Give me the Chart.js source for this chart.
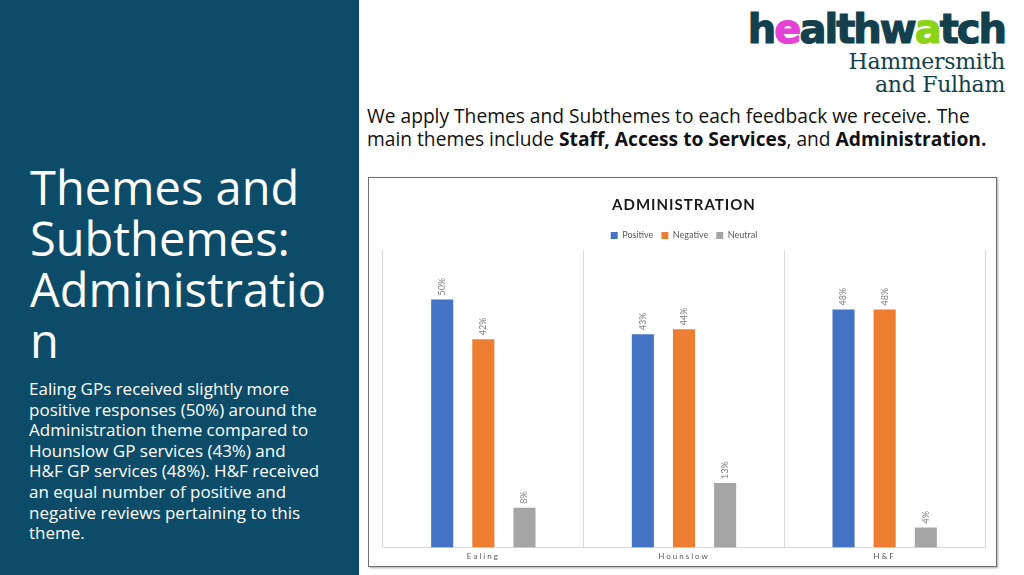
<!DOCTYPE html>
<html>
<head>
<meta charset="utf-8">
<script src="https://cdn.jsdelivr.net/npm/chart.js@4.4.1/dist/chart.umd.min.js"></script>
<style>
  html, body { margin: 0; padding: 0; }
  body { width: 1024px; height: 575px; position: relative; overflow: hidden; background: #fff; font-family: "Open Sans", sans-serif; }
  .side { position: absolute; left: 0; top: 0; width: 359px; height: 575px; background: #0c4c69; color: #fff; }
  .side h1 { position: absolute; left: 30px; top: 162px; margin: 0; font-weight: 400; font-size: 47px; line-height: 51px; white-space: nowrap; }
  .side p { position: absolute; left: 29px; top: 379px; margin: 0; font-size: 17px; line-height: 20.6px; white-space: nowrap; }
  .intro { position: absolute; left: 367px; top: 104px; margin: 0; font-size: 19.2px; line-height: 23px; color: #111; white-space: nowrap; }
  .logo { position: absolute; right: 19px; top: 8px; text-align: right; color: #143f4c; }
  .logo .hw { font-family: "DejaVu Sans", sans-serif; font-weight: 700; font-size: 40px; letter-spacing: -2px; line-height: 42px; -webkit-text-stroke: 1.2px currentColor; }
  .logo .hw .m { color: #e642d8; }
  .logo .hw .g { color: #8bd318; }
  .logo .sub { font-family: "DejaVu Serif", serif; font-size: 22px; line-height: 23px; letter-spacing: -0.3px; }
  .box { position: absolute; left: 368px; top: 177px; width: 627px; height: 388px; border: 1px solid #6f6f6f; box-shadow: 1px 1px 2px rgba(0,0,0,0.35); background: #fff; }
  #chart { display: block; }
</style>
</head>
<body>
<div class="side">
  <h1>Themes and<br>Subthemes:<br>Administratio<br>n</h1>
  <p>Ealing GPs received slightly more<br>positive responses (50%) around the<br>Administration theme compared to<br>Hounslow GP services (43%) and<br>H&amp;F GP services (48%). H&amp;F received<br>an equal number of positive and<br>negative reviews pertaining to this<br>theme.</p>
</div>
<div class="logo">
  <div class="hw">h<span class="m">e</span>althw<span class="g">a</span>tch</div>
  <div class="sub">Hammersmith<br>and Fulham</div>
</div>
<p class="intro">We apply Themes and Subthemes to each feedback we receive. The<br>main themes include <b>Staff, Access to Services</b>, and <b>Administration.</b></p>
<div class="box"><canvas id="chart" width="627" height="388"></canvas></div>
<script>
const categories = ['Ealing', 'Hounslow', 'H&F'];
const positive = [50, 43, 48];
const negative = [42, 44, 48];
const neutral = [8, 13, 4];

// rotated percentage labels above each bar
const barLabels = {
    id: 'barLabels',
    afterDatasetsDraw(chart) {
        const ctx = chart.ctx;
        ctx.save();
        ctx.letterSpacing = '0px';
        ctx.font = '9px Lato';
        ctx.fillStyle = '#7f7f7f';
        ctx.textAlign = 'left';
        ctx.textBaseline = 'middle';
        chart.data.datasets.forEach((ds, i) => {
            chart.getDatasetMeta(i).data.forEach((bar, j) => {
                ctx.save();
                ctx.translate(bar.x, bar.y - 4);
                ctx.rotate(-Math.PI / 2);
                ctx.fillText(ds.data[j] + '%', 0, 0);
                ctx.restore();
            });
        });
        ctx.restore();
    }
};

// spaced-out text for the title and the category labels, plain for the legend
const spacing = {
    id: 'spacing',
    beforeDraw(chart) {
        const ctx = chart.ctx;
        ctx.letterSpacing = '1px';
        if (chart.legend && !chart.legend._wrapped) {
            const legendDraw = chart.legend.draw.bind(chart.legend);
            chart.legend.draw = function () {
                ctx.letterSpacing = '0px';
                legendDraw();
                ctx.letterSpacing = '1px';
            };
            chart.legend._wrapped = true;
        }
        const x = chart.scales.x;
        if (x && !x._wrapped) {
            const drawLabels = x.drawLabels.bind(x);
            x.drawLabels = function (area) {
                ctx.letterSpacing = '2px';
                drawLabels(area);
                ctx.letterSpacing = '1px';
            };
            x._wrapped = true;
        }
    }
};

new Chart(document.getElementById('chart'), {
    type: 'bar',
    data: {
        labels: categories,
        datasets: [
            { label: 'Positive', data: positive, backgroundColor: '#4472c4' },
            { label: 'Negative', data: negative, backgroundColor: '#ed7d31' },
            { label: 'Neutral', data: neutral, backgroundColor: '#a5a5a5' }
        ]
    },
    options: {
        responsive: false,
        animation: false,
        categoryPercentage: 0.615,
        barPercentage: 0.537,
        layout: { padding: { left: 14, right: 11, top: 0, bottom: 1 } },
        plugins: {
            title: {
                display: true,
                text: 'ADMINISTRATION',
                color: '#1a1a1a',
                font: { family: 'Lato', size: 15, weight: 'bold' },
                padding: { top: 18, bottom: 9 }
            },
            legend: {
                labels: {
                    color: '#595959',
                    font: { family: 'Lato', size: 9 },
                    boxWidth: 7,
                    boxHeight: 7,
                    padding: 8
                }
            },
            tooltip: { enabled: false }
        },
        scales: {
            x: {
                grid: { color: '#d9d9d9', drawTicks: false },
                border: { color: '#d9d9d9' },
                ticks: { color: '#595959', font: { family: 'Lato', size: 8 }, padding: 4 }
            },
            y: { display: false, min: 0, max: 60 }
        }
    },
    plugins: [spacing, barLabels]
});
</script>
</body>
</html>
